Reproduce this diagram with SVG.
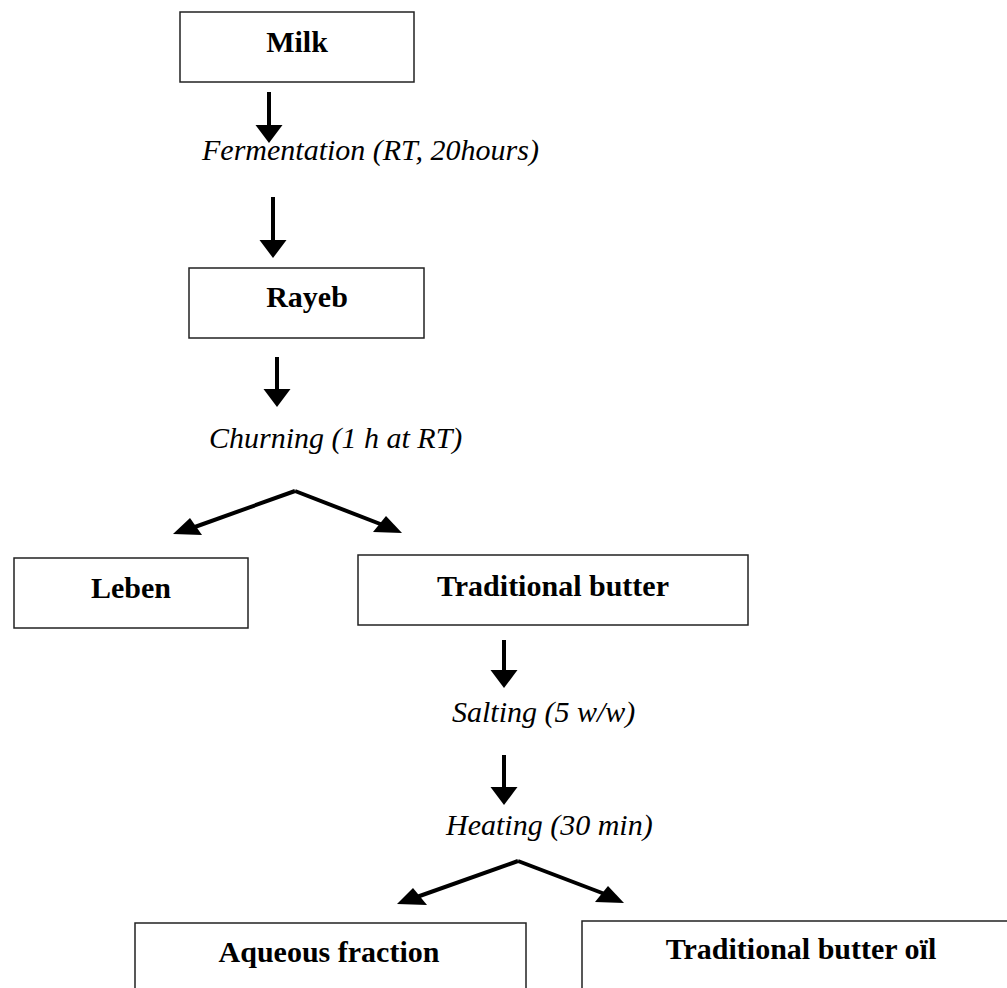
<svg xmlns="http://www.w3.org/2000/svg" width="1007" height="988" viewBox="0 0 1007 988">
<style>
.box{fill:#fff;stroke:#222;stroke-width:1.5}
.bt{font-family:"Liberation Serif","Times New Roman",serif;font-weight:bold;font-size:30px;fill:#000;text-anchor:middle}
.it{font-family:"Liberation Serif","Times New Roman",serif;font-style:italic;font-size:30px;fill:#000}
.ln{stroke:#000;stroke-width:4;fill:none}
.hd{fill:#000;stroke:none}
</style>
<rect width="1007" height="988" fill="#fff"/>
<g id="connectors">
  <line class="ln" x1="269" y1="92" x2="269" y2="127"/>
  <polygon class="hd" points="255.5,125 282.5,125 269,143"/>
  <line class="ln" x1="273" y1="197" x2="273" y2="242"/>
  <polygon class="hd" points="259.5,240 286.5,240 273,258"/>
  <line class="ln" x1="277" y1="357" x2="277" y2="391"/>
  <polygon class="hd" points="263.5,389 290.5,389 277,407"/>
  <line class="ln" x1="295" y1="491" x2="192" y2="528"/>
  <polygon class="hd" points="173,534 202,535 190,518"/>
  <line class="ln" x1="295" y1="491" x2="388" y2="527"/>
  <polygon class="hd" points="373,532 402,533 386,516"/>
  <line class="ln" x1="504" y1="640" x2="504" y2="672"/>
  <polygon class="hd" points="490.5,670 517.5,670 504,688"/>
  <line class="ln" x1="504" y1="755" x2="504" y2="789"/>
  <polygon class="hd" points="490.5,787 517.5,787 504,805"/>
  <line class="ln" x1="518" y1="861" x2="414" y2="898"/>
  <polygon class="hd" points="397,904 427,905 413,888"/>
  <line class="ln" x1="518" y1="861" x2="610" y2="896"/>
  <polygon class="hd" points="595,902 624,903 608,886"/>
</g>
<g id="labels">
  <text class="it" x="202" y="160">Fermentation (RT, 20hours)</text>
  <text class="it" x="209" y="448">Churning (1 h at RT)</text>
  <text class="it" x="452" y="722">Salting (5 w/w)</text>
  <text class="it" x="446" y="835">Heating (30 min)</text>
</g>
<g id="milk">
  <rect class="box" x="180" y="12" width="234" height="70"/>
  <text class="bt" x="297" y="52">Milk</text>
</g>
<g id="rayeb">
  <rect class="box" x="189" y="268" width="235" height="70"/>
  <text class="bt" x="307" y="307">Rayeb</text>
</g>
<g id="leben">
  <rect class="box" x="14" y="558" width="234" height="70"/>
  <text class="bt" x="131" y="598">Leben</text>
</g>
<g id="traditional-butter">
  <rect class="box" x="358" y="555" width="390" height="70"/>
  <text class="bt" x="553" y="596">Traditional butter</text>
</g>
<g id="aqueous-fraction">
  <rect class="box" x="135" y="923" width="391" height="80"/>
  <text class="bt" x="329" y="962">Aqueous fraction</text>
</g>
<g id="traditional-butter-oil">
  <rect class="box" x="582" y="921" width="440" height="80"/>
  <text class="bt" x="801" y="959">Traditional butter oïl</text>
</g>
</svg>
